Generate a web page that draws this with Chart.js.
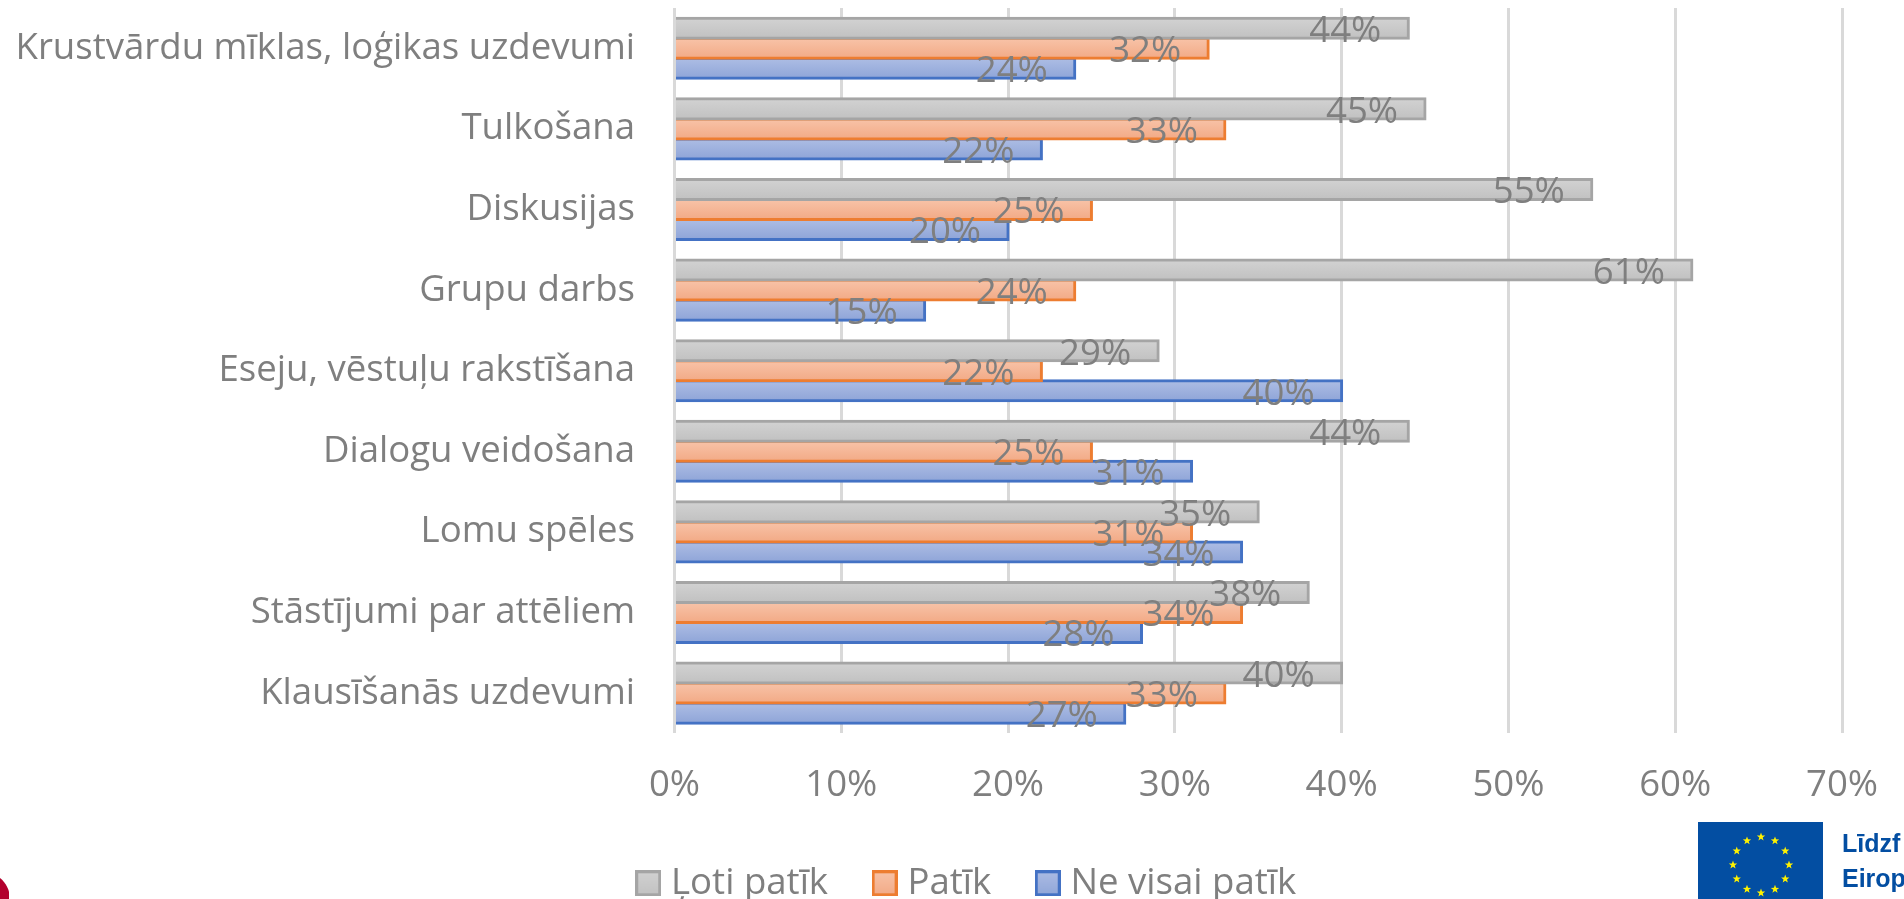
<!DOCTYPE html>
<html lang="lv">
<head>
<meta charset="utf-8">
<title>Chart</title>
<script src="https://cdn.jsdelivr.net/npm/chart.js@4/dist/chart.umd.min.js"></script>
<style>
html,body{margin:0;padding:0;background:#fff;width:1904px;height:899px;overflow:hidden}
#wrap{position:absolute;left:0;top:0;width:1904px;height:899px}
#deco{position:absolute;left:0;top:0;pointer-events:none}
.eu{position:absolute;left:1842px;font:bold 25px "Liberation Sans",sans-serif;color:#034ea2;line-height:30px}
</style>
</head>
<body>
<div id="wrap"><canvas id="c" width="1904" height="899"></canvas></div>
<svg id="deco" width="1904" height="899" viewBox="0 0 1904 899">
  <path d="M0 878 C4 881 8 887 9 892 L9 899 L0 899 Z" fill="#b3002d"/>
  <rect x="1698" y="822" width="125" height="77" fill="#034ea2"/>
  <g id="stars" fill="#fff200"></g>
</svg>
<div class="eu" style="top:828px">Līdzf</div>
<div class="eu" style="top:863px">Eirop</div>
<script>
const categories = ["Krustvārdu mīklas, loģikas uzdevumi","Tulkošana","Diskusijas","Grupu darbs","Eseju, vēstuļu rakstīšana","Dialogu veidošana","Lomu spēles","Stāstījumi par attēliem","Klausīšanās uzdevumi"];
const seriesNames = ["Ļoti patīk","Patīk","Ne visai patīk"];
const lotiPatik = [44,45,55,61,29,44,35,38,40];
const patik = [32,33,25,24,22,25,31,34,33];
const neVisaiPatik = [24,22,20,15,40,31,34,28,27];
const borderColors = ["#a5a5a5","#ed7d31","#4472c4"];
const gradTop = ["#d2d2d2","#f8c3a8","#adbde4"];
const gradBottom = ["#c1c1c1","#f2aa86","#8fa5d8"];

const FONT = '"Open Sans", sans-serif';
const SIZE = 36.6;
const TXT = "#7f7f7f";
const CAT_PCT = 0.746;
const PLOT_RIGHT = 1842;

// EU flag stars (decorative logo)
(function(){
  const g = document.getElementById("stars");
  let s = "";
  for (let k = 0; k < 12; k++) {
    const a = k * Math.PI / 6;
    const cx = 1761 + 28 * Math.cos(a), cy = 865 + 28 * Math.sin(a);
    let pts = [];
    for (let j = 0; j < 10; j++) {
      const r = j % 2 ? 1.8 : 4.4, b = -Math.PI / 2 + j * Math.PI / 5;
      pts.push((cx + r * Math.cos(b)).toFixed(1) + "," + (cy + r * Math.sin(b)).toFixed(1));
    }
    s += '<polygon points="' + pts.join(" ") + '"/>';
  }
  g.innerHTML = s;
})();

function legendSwatch(i){
  const cv = document.createElement("canvas");
  cv.width = 26; cv.height = 26;
  const x = cv.getContext("2d");
  const g = x.createLinearGradient(0,0,0,26);
  g.addColorStop(0, gradTop[i]); g.addColorStop(1, gradBottom[i]);
  x.fillStyle = g; x.fillRect(1.5,1.5,23,23);
  x.strokeStyle = borderColors[i]; x.lineWidth = 3; x.strokeRect(1.5,1.5,23,23);
  return cv;
}

function barFill(ctx, dsIndex){
  const chart = ctx.chart, y = chart.scales.y;
  if (ctx.dataIndex === undefined || !y || !y.ticks || !y.ticks.length) return gradBottom[dsIndex];
  const cat = (y.bottom - y.top) / categories.length;
  const h = cat * CAT_PCT / 3;
  const c = y.getPixelForValue(ctx.dataIndex) + (dsIndex - 1) * h;
  const g = chart.ctx.createLinearGradient(0, c - h/2, 0, c + h/2);
  g.addColorStop(0, gradTop[dsIndex]); g.addColorStop(1, gradBottom[dsIndex]);
  return g;
}

const allSeries = [lotiPatik, patik, neVisaiPatik];

const valueLabels = {
  id: "valueLabels",
  afterDatasetsDraw(chart){
    const c = chart.ctx;
    c.save();
    c.font = SIZE + "px " + FONT;
    c.fillStyle = TXT;
    c.textAlign = "right";
    c.textBaseline = "middle";
    chart.data.datasets.forEach((ds, i) => {
      chart.getDatasetMeta(i).data.forEach((bar, j) => {
        c.fillText(ds.data[j] + "%", bar.x - 27, bar.y + 3.5);
      });
    });
    c.restore();
  }
};

const adjustLayout = {
  id: "adjustLayout",
  afterLayout(chart){
    const l = chart.legend;
    const dx = 48, newTop = 813;
    const dy = newTop - l.top;
    l.left += dx; l.right += dx; l.top += dy; l.bottom += dy;
    l.legendHitBoxes.forEach(h => { h.left += dx; h.top += dy; });
    const x = chart.scales.x;
    x.right = PLOT_RIGHT;
    x.width = x.right - x.left;
    x.configure();
    chart.chartArea.right = PLOT_RIGHT;
    chart.chartArea.width = x.width;
  }
};

new Chart(document.getElementById("c"), {
  type: "bar",
  data: {
    labels: categories,
    datasets: allSeries.map((vals, i) => ({
      label: seriesNames[i],
      data: vals,
      backgroundColor: ctx => barFill(ctx, i),
      borderColor: borderColors[i],
      borderWidth: 3,
      borderSkipped: "start",
      inflateAmount: 1.5,
      categoryPercentage: CAT_PCT,
      barPercentage: 1
    }))
  },
  options: {
    indexAxis: "y",
    responsive: false,
    animation: false,
    layout: { padding: { top: 8, right: 60, left: 0, bottom: -60 } },
    scales: {
      x: {
        min: 0, max: 70,
        ticks: { stepSize: 10, callback: v => v + "%", color: TXT, font: { family: FONT, size: SIZE }, padding: 30, maxRotation: 0 },
        grid: { color: "#d9d9d9", lineWidth: 3, drawTicks: false },
        border: { display: false },
        afterFit(s){ s.height = 127; }
      },
      y: {
        ticks: { color: TXT, font: { family: FONT, size: SIZE }, padding: 39.5 },
        grid: { display: false, drawTicks: false },
        border: { display: false },
        afterFit(s){ s.width = 674.5; s.paddingTop = 0; s.paddingBottom = 0; }
      }
    },
    plugins: {
      tooltip: { enabled: false },
      legend: {
        position: "bottom",
        labels: {
          color: TXT,
          font: { family: FONT, size: SIZE },
          usePointStyle: true,
          boxWidth: 9,
          boxHeight: 9,
          padding: 52,
          generateLabels(chart){
            return Chart.defaults.plugins.legend.labels.generateLabels(chart)
              .map((it, i) => Object.assign(it, { pointStyle: legendSwatch(i) }));
          }
        }
      }
    }
  },
  plugins: [valueLabels, adjustLayout]
});
</script>
</body>
</html>
